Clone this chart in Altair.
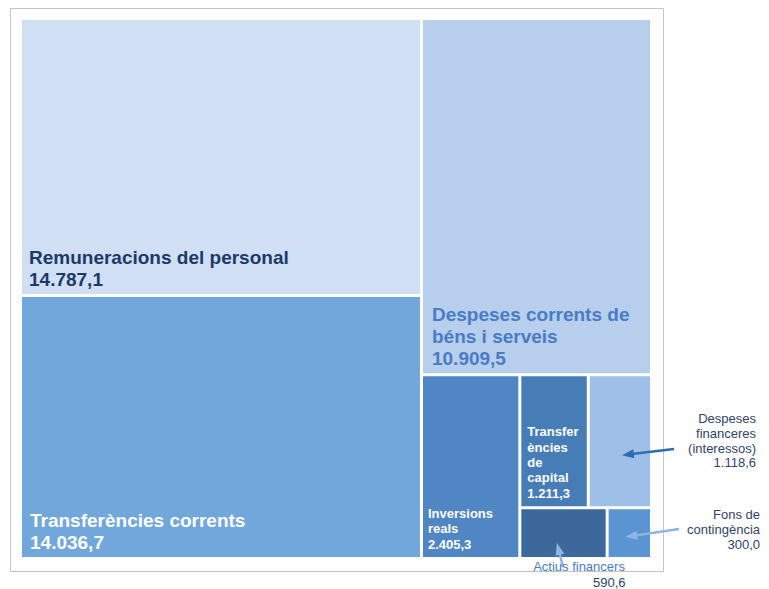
import math
import altair as alt
import pandas as pd

# ---------------- data ----------------
categories = [
    "Remuneracions del personal",
    "Transferències corrents",
    "Despeses corrents de béns i serveis",
    "Inversions reals",
    "Transferències de capital",
    "Despeses financeres (interessos)",
    "Actius financers",
    "Fons de contingència",
]
values = [14787.1, 14036.7, 10909.5, 2405.3, 1211.3, 1118.6, 590.6, 300.0]
value_labels = ["14.787,1", "14.036,7", "10.909,5", "2.405,3", "1.211,3",
                "1.118,6", "590,6", "300,0"]
label_lines = [
    ["Remuneracions del personal"],
    ["Transferències corrents"],
    ["Despeses corrents de", "béns i serveis"],
    ["Inversions", "reals"],
    ["Transfer", "ències", "de", "capital"],
    ["Despeses", "financeres", "(interessos)"],
    ["Actius financers"],
    ["Fons de", "contingència"],
]

# ---------------- style / layout ----------------
FONT = "Liberation Sans"
fills = ["#d0dff3", "#72a7dc", "#b7cfed", "#4f86c3", "#467db7",
         "#9ec0e8", "#3c689b", "#5a94d1"]
# nesting of the treemap: "h" = children side by side, "v" = stacked
tree = ("h", [("v", [0, 1]),
              ("v", [2, ("h", [3, ("v", [("h", [4, 5]), ("h", [6, 7])])])])])
BOX = (20.5, 18.5, 651.5, 558.5)   # treemap box in page pixels
GAP = 3.0
DARK = "#2f4468"

# inside labels: size, line height, colour, left padding
inside = {
    0: (19, 22, "#1b3a68", 7),
    1: (19, 22, "#ffffff", 8),
    2: (19, 22, "#4a7bc6", 9),
    3: (13, 15.3, "#ffffff", 5),
    4: (13, 15.3, "#ffffff", 6),
}


def total(node):
    if isinstance(node, int):
        return values[node]
    return sum(total(k) for k in node[1])


rects = {}


def layout(node, x0, y0, x1, y1):
    if isinstance(node, int):
        rects[node] = (x0, y0, x1, y1)
        return
    d, kids = node
    t = total(node)
    pos = x0 if d == "h" else y0
    for k in kids:
        f = total(k) / t
        if d == "h":
            w = (x1 - x0) * f
            layout(k, pos, y0, pos + w, y1)
        else:
            w = (y1 - y0) * f
            layout(k, x0, pos, x1, pos + w)
        pos += w


layout(tree, *BOX)

rect_rows = []
for i, (x0, y0, x1, y1) in rects.items():
    rect_rows.append({
        "cat": categories[i], "val": value_labels[i], "fill": fills[i],
        "x0": x0 + GAP / 2, "x1": x1 - GAP / 2,
        "y0": y0 + GAP / 2, "y1": y1 - GAP / 2,
    })
rect_df = pd.DataFrame(rect_rows)

text_rows = []
for i, (fs, lh, col, pad) in inside.items():
    x0, y0, x1, y1 = rects[i]
    lines = label_lines[i] + [value_labels[i]]
    last = y1 - GAP / 2 - 8.5
    n = len(lines)
    for k, ln in enumerate(lines):
        text_rows.append({"t": ln, "x": x0 + GAP / 2 + pad,
                          "y": last - (n - 1 - k) * lh, "fs": fs, "col": col,
                          "w": "bold", "al": "left"})

# external labels (annotation anchors)
ext = {
    5: {"x": 756, "y": 423, "lh": 14.8, "tail": (674, 449), "tip": (2, 14), "acol": "#2e6db4"},
    7: {"x": 760, "y": 519, "lh": 15.0, "tail": (679, 529), "tip": (-4, 4), "acol": "#8db4e2"},
    6: {"x": 579, "y": 571, "lh": 16.0, "tail": (563, 567), "tip": (-6.5, 10), "acol": "#8db4e2"},
}
for i, e in ext.items():
    if i == 6:
        text_rows.append({"t": label_lines[i][0], "x": e["x"], "y": e["y"], "fs": 13,
                          "col": "#4a7bc6", "w": "normal", "al": "center"})
        text_rows.append({"t": value_labels[i], "x": 625.5, "y": e["y"] + e["lh"], "fs": 13,
                          "col": DARK, "w": "normal", "al": "right"})
    else:
        lines = label_lines[i] + [value_labels[i]]
        for k, ln in enumerate(lines):
            text_rows.append({"t": ln, "x": e["x"], "y": e["y"] + k * e["lh"], "fs": 13,
                              "col": DARK, "w": "normal", "al": "right"})
text_df = pd.DataFrame(text_rows)

arrow_rows = []
HEAD = 12.0
for i, e in ext.items():
    x0, y0, x1, y1 = rects[i]
    tipx = (x0 + x1) / 2 + e["tip"][0]
    tipy = (y0 + y1) / 2 + e["tip"][1]
    tx, ty = e["tail"]
    dx, dy = tipx - tx, tipy - ty
    L = math.hypot(dx, dy)
    ux, uy = dx / L, dy / L
    arrow_rows.append({
        "tx": tx, "ty": ty,
        "bx": tipx - ux * (HEAD - 2), "by": tipy - uy * (HEAD - 2),
        "hx": tipx, "hy": tipy,
        "ang": math.degrees(math.atan2(dy, dx)) % 360,
        "col": e["acol"],
    })
arrow_df = pd.DataFrame(arrow_rows)

frame_df = pd.DataFrame([{"x0": 10.5, "x1": 663.5, "y0": 8.5, "y1": 571.5}])

W, H = 753, 581
xs = alt.Scale(domain=[8, 8 + W], nice=False, zero=False)
ys = alt.Scale(domain=[8, 8 + H], nice=False, zero=False, reverse=True)


def X(f):
    return alt.X(f, type="quantitative", scale=xs, axis=None)


def Y(f):
    return alt.Y(f, type="quantitative", scale=ys, axis=None)


frame = alt.Chart(frame_df).mark_rect(fillOpacity=0, stroke="#c4c4c4", strokeWidth=1).encode(
    x=X("x0"), x2="x1:Q", y=Y("y0"), y2="y1:Q")

treemap = alt.Chart(rect_df).mark_rect(strokeWidth=0).encode(
    x=X("x0"), x2="x1:Q", y=Y("y0"), y2="y1:Q",
    color=alt.Color("fill:N", scale=None),
    tooltip=[alt.Tooltip("cat:N"), alt.Tooltip("val:N")])


def text_layer(weight, align):
    return alt.Chart(text_df).transform_filter(
        (alt.datum.w == weight) & (alt.datum.al == align)
    ).mark_text(font=FONT, fontWeight=weight, align=align, baseline="alphabetic").encode(
        x=X("x"), y=Y("y"), text="t:N",
        size=alt.Size("fs:Q", scale=None),
        color=alt.Color("col:N", scale=None))


rules = alt.Chart(arrow_df).mark_rule(strokeWidth=2.5).encode(
    x=X("tx"), y=Y("ty"), x2="bx:Q", y2="by:Q",
    color=alt.Color("col:N", scale=None))

heads = alt.Chart(arrow_df).mark_point(
    shape="M0,0L-2,-0.75L-2,0.75Z", filled=True, size=144, opacity=1, strokeWidth=0
).encode(
    x=X("hx"), y=Y("hy"),
    angle=alt.Angle("ang:Q", scale=None),
    color=alt.Color("col:N", scale=None))

chart = alt.layer(
    frame, treemap,
    text_layer("bold", "left"),
    rules, heads,
    text_layer("normal", "right"),
    text_layer("normal", "center"),
).properties(
    width=W, height=H, autosize="none", padding=0
).configure(font=FONT).configure_view(strokeWidth=0, stroke="transparent")

chart.save("out.html", embed_options={"renderer": "svg", "actions": False})
